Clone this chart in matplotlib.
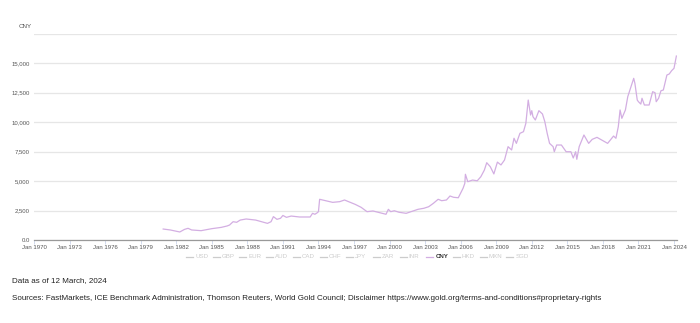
import matplotlib
matplotlib.use('Agg')
import matplotlib.pyplot as plt
from matplotlib.lines import Line2D

plt.rcParams['font.family'] = ['Liberation Sans', 'DejaVu Sans']

# gold price in CNY (per oz), decimal years
years = [1980.9, 1981.5, 1982.3, 1982.7, 1983.0, 1983.3, 1984.1, 1985.0, 1985.8, 1986.3,
         1986.5, 1986.8, 1987.1, 1987.4, 1987.9, 1988.7, 1989.2, 1989.7, 1990.0, 1990.2,
         1990.5, 1990.8, 1991.0, 1991.3, 1991.7, 1992.4, 1993.3, 1993.5, 1993.7, 1993.9,
         1994.0, 1994.1, 1994.6, 1995.2, 1995.8, 1996.2, 1996.7, 1997.1, 1997.6, 1998.1,
         1998.6, 1999.2, 1999.7, 1999.9, 2000.1, 2000.4, 2000.8, 2001.4, 2002.0, 2002.4,
         2002.9, 2003.3, 2003.7, 2004.1, 2004.4, 2004.8, 2005.1, 2005.4, 2005.8, 2006.2,
         2006.35, 2006.4, 2006.6, 2007.0, 2007.4, 2007.7, 2008.0, 2008.2, 2008.5, 2008.8,
         2009.1, 2009.4, 2009.7, 2010.0, 2010.3, 2010.5, 2010.7, 2011.0, 2011.3, 2011.5,
         2011.7, 2011.9, 2012.0, 2012.1, 2012.3, 2012.6, 2012.9, 2013.1, 2013.3, 2013.5,
         2013.8, 2013.9, 2014.1, 2014.5, 2014.9, 2015.3, 2015.5, 2015.7, 2015.8, 2016.0,
         2016.4, 2016.8, 2017.1, 2017.5, 2017.9, 2018.4, 2018.9, 2019.1, 2019.3, 2019.45,
         2019.6, 2019.9, 2020.1, 2020.6, 2020.7, 2020.9, 2021.0, 2021.2, 2021.3, 2021.5,
         2021.9, 2022.2, 2022.4, 2022.5, 2022.7, 2022.9, 2023.1, 2023.4, 2023.6, 2023.8,
         2024.0, 2024.2]
cny = [930, 850, 680, 900, 990, 850, 790, 960, 1070, 1190,
       1270, 1550, 1500, 1690, 1780, 1690, 1550, 1410, 1550, 1980,
       1750, 1840, 2080, 1920, 2030, 1950, 1950, 2260, 2180, 2310,
       2400, 3450, 3330, 3190, 3250, 3390, 3190, 3020, 2770, 2400,
       2460, 2310, 2180, 2600, 2400, 2480, 2350, 2260, 2460, 2600,
       2690, 2820, 3110, 3450, 3330, 3390, 3730, 3620, 3580, 4380,
       4800, 5570, 4940, 5080, 5020, 5360, 5930, 6550, 6210, 5600,
       6600, 6360, 6780, 7910, 7630, 8620, 8190, 9040, 9180, 9890,
       11860, 10590, 10960, 10450, 10170, 10960, 10680, 10030, 9040, 8190,
       7910, 7480, 8050, 8050, 7480, 7480, 6950, 7480, 6840, 7910,
       8900, 8190, 8530, 8700, 8470, 8190, 8810, 8620, 9600, 11020,
       10310, 11020, 12150, 13700, 13280, 11860, 11720, 11520, 12010, 11440,
       11440, 12570, 12480, 11720, 12010, 12650, 12710, 13980, 14070, 14350,
       14550, 15590]

tick_years = list(range(1970, 2025, 3))
tick_labels = ['Jan %d' % y for y in tick_years]
y_ticks = [0, 2500, 5000, 7500, 10000, 12500, 15000, 17500]
y_labels = ['0.0', '2,500', '5,000', '7,500', '10,000', '12,500', '15,000', '']
currencies = ['USD', 'GBP', 'EUR', 'AUD', 'CAD', 'CHF', 'JPY', 'ZAR', 'INR',
              'CNY', 'HKD', 'MXN', 'SGD']

line_color = '#d3aee2'

fig = plt.figure(figsize=(7, 3.23), dpi=100)
ax = fig.add_axes([34 / 700, 1 - 240 / 323, 643 / 700, 206.5 / 323])

ax.plot(years, cny, color=line_color, lw=0.9, solid_joinstyle='round')

ax.set_xlim(1970, 2024 + 3 / 11.85)
ax.set_ylim(0, 17500)
ax.set_xticks(tick_years)
ax.set_xticklabels(tick_labels, fontsize=4.3, color='#555555')
ax.set_yticks(y_ticks)
ax.set_yticklabels(y_labels, fontsize=4.3, color='#555555')
ax.tick_params(axis='y', length=0, pad=3)
ax.tick_params(axis='x', length=3, width=0.6, color='#ccd6eb', pad=0.5)
ax.grid(axis='y', color='#e6e6e6', lw=0.9)
ax.set_axisbelow(True)
for s in ['top', 'right', 'left']:
    ax.spines[s].set_visible(False)
ax.spines['bottom'].set_color('#999999')
ax.spines['bottom'].set_linewidth(0.9)

fig.text(32 / 700, 1 - 27 / 323, 'CNY', fontsize=4.5, color='#555555',
         ha='right', va='center')

# legend row
x0 = 186
step = 26.7
for i, c in enumerate(currencies):
    x = x0 + i * step
    yy = 1 - 257 / 323
    active = c == 'CNY'
    fig.add_artist(Line2D([x / 700, (x + 7) / 700], [yy, yy], transform=fig.transFigure,
                          color=line_color if active else '#cccccc', lw=0.9))
    fig.text((x + 9) / 700, yy, c, fontsize=4.4, va='center', ha='left',
             color='#333333' if active else '#cccccc',
             fontweight='bold' if active else 'normal')

fig.text(12 / 700, 1 - 281 / 323, 'Data as of 12 March, 2024', fontsize=5.75,
         color='#222222', va='center')
fig.text(12 / 700, 1 - 298 / 323,
         'Sources: FastMarkets, ICE Benchmark Administration, Thomson Reuters, World Gold Council; '
         'Disclaimer https://www.gold.org/terms-and-conditions#proprietary-rights',
         fontsize=5.75, color='#222222', va='center')

fig.savefig('out.png', dpi=100)
